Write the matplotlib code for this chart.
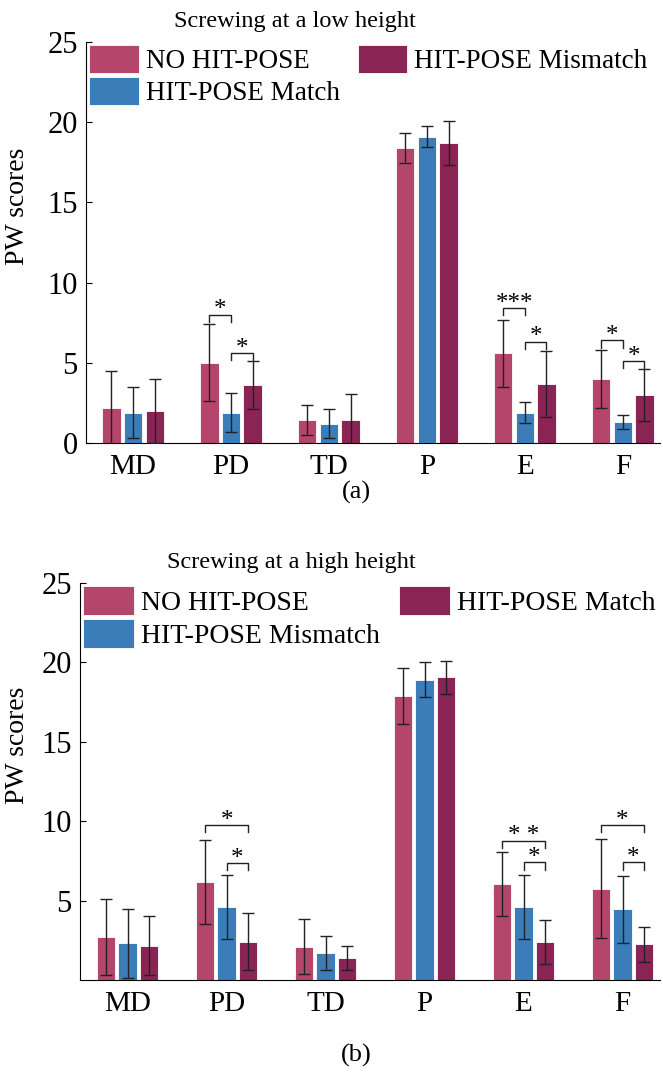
import numpy as np
import matplotlib
matplotlib.use('Agg')
import matplotlib.pyplot as plt

plt.rcParams['font.family'] = ['Liberation Serif', 'DejaVu Serif']

categories = ['MD', 'PD', 'TD', 'P', 'E', 'F']
colors = ['#B5466B', '#3A7DB8', '#8A2455']

# (a) low height
low_mean = [[2.2, 5.0, 1.45, 18.4, 5.6, 4.0],   # NO HIT-POSE
            [1.9, 1.9, 1.2, 19.1, 1.9, 1.3],    # HIT-POSE Match
            [2.0, 3.6, 1.45, 18.7, 3.7, 3.0]]   # HIT-POSE Mismatch
low_err = [[2.3, 2.4, 0.95, 0.95, 2.1, 1.8],
           [1.6, 1.2, 0.9, 0.65, 0.67, 0.45],
           [2.0, 1.5, 1.6, 1.35, 2.05, 1.6]]
low_labels = ['NO HIT-POSE', 'HIT-POSE Match', 'HIT-POSE Mismatch']
low_sig = [(1, 0, 1, 8.0, '*'), (1, 1, 2, 5.6, '*'),
           (4, 0, 1, 8.4, '***'), (4, 1, 2, 6.3, '*'),
           (5, 0, 1, 6.4, '*'), (5, 1, 2, 5.1, '*')]

# (b) high height
high_mean = [[2.7, 6.15, 2.1, 17.9, 6.05, 5.75],  # NO HIT-POSE
             [2.3, 4.6, 1.7, 18.9, 4.6, 4.45],    # HIT-POSE Mismatch
             [2.15, 2.4, 1.4, 19.05, 2.4, 2.25]]  # HIT-POSE Match
high_err = [[2.4, 2.65, 1.75, 1.75, 2.0, 3.1],
            [2.2, 2.0, 1.1, 1.1, 2.0, 2.1],
            [1.85, 1.8, 0.76, 1.05, 1.4, 1.1]]
high_labels = ['NO HIT-POSE', 'HIT-POSE Mismatch', 'HIT-POSE Match']
high_sig = [(1, 0, 2, 9.75, '*'), (1, 1, 2, 7.35, '*'),
            (4, 0, 2, 8.75, '* *'), (4, 1, 2, 7.4, '*'),
            (5, 0, 2, 9.75, '*'), (5, 1, 2, 7.4, '*')]

fig = plt.figure(figsize=(6.63, 10.74), dpi=100)
ax1 = fig.add_axes([0.1297, 0.5875, 0.866, 0.3734])
ax2 = fig.add_axes([0.1207, 0.0875, 0.875, 0.3697])

width = 0.185
step = 0.22
x = np.arange(1, len(categories) + 1)


def draw(ax, means, errs, labels, sigs, title, yticks, labx, legsize):
    handles = []
    for i in range(3):
        pos = x + (i - 1) * step
        b = ax.bar(pos, means[i], width, color=colors[i], edgecolor='white',
                   linewidth=0.6, label=labels[i], zorder=2)
        ax.errorbar(pos, means[i], yerr=errs[i], fmt='none', ecolor='#222222',
                    elinewidth=1.0, capsize=4, capthick=1.0, zorder=3)
        handles.append(b)
    for c, i, j, h, s in sigs:
        xa = x[c] + (i - 1) * step
        xb = x[c] + (j - 1) * step
        ax.plot([xa, xa, xb, xb], [h - 0.45, h, h, h - 0.45], color='#222222', lw=1.0)
        ax.text((xa + xb) / 2, h - 0.4, s, ha='center', va='bottom', fontsize=18)
    ax.set_xlim(0.52, 6.38)
    ax.set_ylim(0, 25)
    ax.set_xticks(x)
    ax.set_xticklabels(categories)
    ax.set_yticks(yticks)
    ax.tick_params(axis='y', direction='in', length=4, labelsize=22, pad=6)
    ax.tick_params(axis='x', length=0, labelsize=21, pad=8)
    ax.spines['top'].set_visible(False)
    ax.spines['right'].set_visible(False)
    ax.set_ylabel('PW scores', fontsize=20)
    ax.yaxis.set_label_coords(labx, 0.59)
    ax.set_title(title, fontsize=17.5, pad=11, x=0.364)
    ax.legend(handles, labels, ncol=2, loc='upper left', frameon=False,
              fontsize=legsize, handlelength=1.84, handleheight=1.2,
              columnspacing=0.66, handletextpad=0.26, labelspacing=0.12,
              borderaxespad=0.0, bbox_to_anchor=(-0.014, 1.02))


draw(ax1, low_mean, low_err, low_labels, low_sig, 'Screwing at a low height',
     [0, 5, 10, 15, 20, 25], -0.097, 19.5)
draw(ax2, high_mean, high_err, high_labels, high_sig, 'Screwing at a high height',
     [5, 10, 15, 20, 25], -0.086, 20)

fig.text(0.538, 1 - 492 / 1074, '(a)', ha='center', va='center', fontsize=19)
fig.text(0.538, 1 - 1055 / 1074, '(b)', ha='center', va='center', fontsize=19)

fig.savefig('out.png', dpi=100)
